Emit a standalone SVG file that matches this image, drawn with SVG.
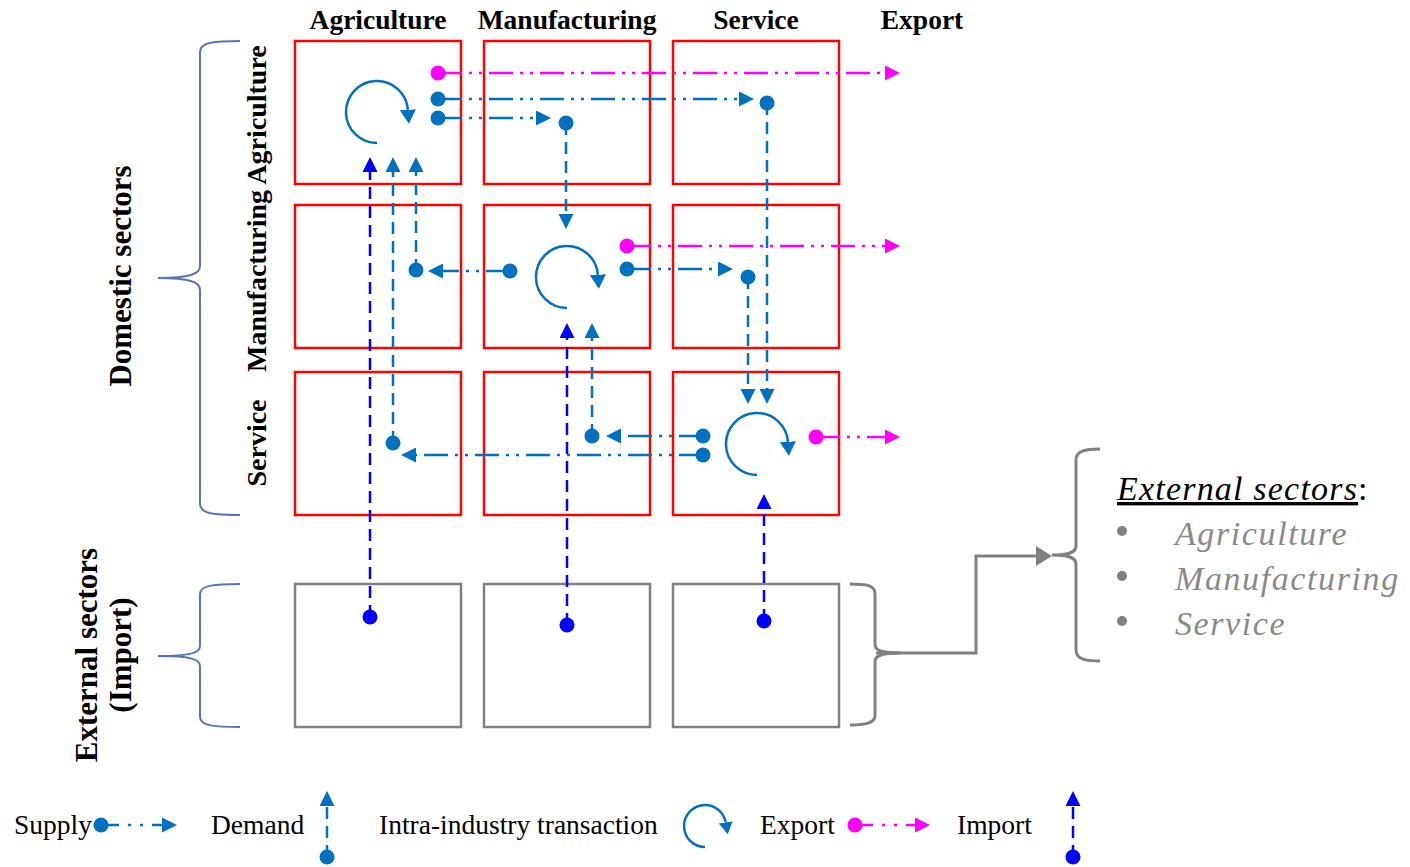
<svg xmlns="http://www.w3.org/2000/svg" width="1410" height="867" viewBox="0 0 1410 867">
<style>
.hdr{font-family:"Liberation Serif","Times New Roman",serif;font-weight:bold;font-size:27.5px;fill:#000}
.rowl{font-family:"Liberation Serif","Times New Roman",serif;font-weight:bold;font-size:28px;fill:#000}
.grp{font-family:"Liberation Serif","Times New Roman",serif;font-weight:bold;font-size:31px;fill:#000}
.leg{font-family:"Liberation Serif","Times New Roman",serif;font-size:27.5px;fill:#000}
.ext{font-family:"Liberation Serif","Times New Roman",serif;font-style:italic;font-size:34px;letter-spacing:1.2px}
.item{font-family:"Liberation Serif","Times New Roman",serif;font-style:italic;font-size:34px;letter-spacing:1.6px;fill:#8A8A8A}
.box{fill:none;stroke:#FF0000;stroke-width:2.5}
.gbox{fill:none;stroke:#808080;stroke-width:2.5}
.sup{fill:none;stroke:#0070C0;stroke-width:2.5;stroke-dasharray:24 7 3 7 3 7}
.exp{fill:none;stroke:#FF00FF;stroke-width:2.5;stroke-dasharray:24 7 3 7 3 7}
.dem{fill:none;stroke:#0070C0;stroke-width:2.5;stroke-dasharray:12 7}
.imp{fill:none;stroke:#0000FF;stroke-width:2.5;stroke-dasharray:12 7}
.circ{fill:none;stroke:#0070C0;stroke-width:2.5}
.dotb{fill:#0070C0}
.dotm{fill:#FF00FF}
.doti{fill:#0000FF}
.brace{fill:none;stroke:#5A74B8;stroke-width:2}
.gbrace{fill:none;stroke:#808080;stroke-width:3}
</style>
<defs>
<marker id="ab" viewBox="0 0 15 15" refX="0" refY="7.5" markerWidth="15" markerHeight="15" markerUnits="userSpaceOnUse" orient="auto"><path d="M0,0 L15,7.5 L0,15 z" fill="#0070C0"/></marker>
<marker id="am" viewBox="0 0 15 15" refX="0" refY="7.5" markerWidth="15" markerHeight="15" markerUnits="userSpaceOnUse" orient="auto"><path d="M0,0 L15,7.5 L0,15 z" fill="#FF00FF"/></marker>
<marker id="ai" viewBox="0 0 15 15" refX="0" refY="7.5" markerWidth="15" markerHeight="15" markerUnits="userSpaceOnUse" orient="auto"><path d="M0,0 L15,7.5 L0,15 z" fill="#0000FF"/></marker>
<marker id="ac" viewBox="0 0 14 16" refX="0" refY="8" markerWidth="14" markerHeight="16" markerUnits="userSpaceOnUse" orient="auto"><path d="M0,0 L14,8 L0,16 z" fill="#0070C0"/></marker>
<marker id="acs" viewBox="0 0 12 14" refX="0" refY="7" markerWidth="12" markerHeight="14" markerUnits="userSpaceOnUse" orient="auto"><path d="M0,0 L12,7 L0,14 z" fill="#0070C0"/></marker>
<marker id="ag" viewBox="0 0 16 20" refX="0" refY="10" markerWidth="16" markerHeight="20" markerUnits="userSpaceOnUse" orient="auto"><path d="M0,0 L16,10 L0,20 z" fill="#808080"/></marker>
</defs>

<g id="headers">
<text class="hdr" x="378" y="29" text-anchor="middle">Agriculture</text>
<text class="hdr" x="567" y="29" text-anchor="middle">Manufacturing</text>
<text class="hdr" x="756" y="29" text-anchor="middle">Service</text>
<text class="hdr" x="922" y="29" text-anchor="middle">Export</text>
</g>
<g id="row-labels">
<text class="rowl" transform="translate(266,115) rotate(-90)" text-anchor="middle">Agriculture</text>
<text class="rowl" transform="translate(266,281) rotate(-90)" text-anchor="middle">Manufacturing</text>
<text class="rowl" transform="translate(266,443) rotate(-90)" text-anchor="middle">Service</text>
</g>
<g id="domestic-label">
<text class="grp" transform="translate(131,276) rotate(-90)" text-anchor="middle">Domestic sectors</text>
<path class="brace" d="M240,41 C215,41 200,42 200,52 L200,266 C200,274 190,278 158,278 C190,278 200,282 200,290 L200,504 C200,514 215,515 240,515"/>
</g>
<g id="external-label">
<text class="grp" transform="translate(97,655) rotate(-90)" text-anchor="middle">External sectors</text>
<text class="grp" transform="translate(131,655) rotate(-90)" text-anchor="middle">(Import)</text>
<path class="brace" d="M240,584 C215,584 200,585 200,594 L200,646 C200,653 190,656 158,656 C190,656 200,659 200,666 L200,717 C200,726 215,727 240,727"/>
</g>

<g id="node-ag-ag"><rect class="box" x="295" y="41" width="166" height="143"/></g>
<g id="node-ag-mf"><rect class="box" x="484" y="41" width="166" height="143"/></g>
<g id="node-ag-sv"><rect class="box" x="673" y="41" width="166" height="143"/></g>
<g id="node-mf-ag"><rect class="box" x="295" y="205" width="166" height="143"/></g>
<g id="node-mf-mf"><rect class="box" x="484" y="205" width="166" height="143"/></g>
<g id="node-mf-sv"><rect class="box" x="673" y="205" width="166" height="143"/></g>
<g id="node-sv-ag"><rect class="box" x="295" y="372" width="166" height="143"/></g>
<g id="node-sv-mf"><rect class="box" x="484" y="372" width="166" height="143"/></g>
<g id="node-sv-sv"><rect class="box" x="673" y="372" width="166" height="143"/></g>
<g id="node-ext-ag"><rect class="gbox" x="295" y="584" width="166" height="143"/></g>
<g id="node-ext-mf"><rect class="gbox" x="484" y="584" width="166" height="143"/></g>
<g id="node-ext-sv"><rect class="gbox" x="673" y="584" width="166" height="143"/></g>

<g id="external-list">
<path class="gbrace" d="M850,584 C866,584 875,585 875,594 L875,644 C875,650 880,653 900,653 C880,653 875,656 875,662 L875,716 C875,723 866,725 850,725"/>
<path class="gbrace" d="M1100,449 C1085,449 1076,451 1076,460 L1076,546 C1076,552 1070,555 1052,555 C1070,555 1076,558 1076,564 L1076,650 C1076,659 1085,661 1100,661"/>
<text class="ext" x="1117" y="500" fill="#000"><tspan text-decoration="underline">External sectors</tspan><tspan font-style="normal">:</tspan></text>
<circle cx="1122" cy="531" r="5" fill="#808080"/>
<circle cx="1122" cy="576" r="5" fill="#808080"/>
<circle cx="1122" cy="621" r="5" fill="#808080"/>
<text class="item" x="1175" y="545">Agriculture</text>
<text class="item" x="1175" y="590">Manufacturing</text>
<text class="item" x="1175" y="635">Service</text>
</g>

<g id="connectors">
<path fill="none" stroke="#808080" stroke-width="3" d="M876,653 H976 V556 H1036" marker-end="url(#ag)"/>
<path class="circ" d="M377,143 A31,31 0 1 1 407.9,109.8" marker-end="url(#ac)"/>
<path class="circ" d="M567,308 A31,31 0 1 1 597.9,274.8" marker-end="url(#ac)"/>
<path class="circ" d="M757,475 A31,31 0 1 1 787.9,441.8" marker-end="url(#ac)"/>
<path class="exp" d="M438,73 H885" marker-end="url(#am)"/>
<path class="exp" d="M627,246 H885" marker-end="url(#am)"/>
<path class="exp" d="M816,437 H885" marker-end="url(#am)"/>
<path class="sup" d="M438,99 H739" marker-end="url(#ab)"/>
<path class="sup" d="M438,118 H536" marker-end="url(#ab)"/>
<path class="sup" d="M510,271 H443" marker-end="url(#ab)"/>
<path class="sup" d="M627,269 H718" marker-end="url(#ab)"/>
<path class="sup" d="M703,436 H621" marker-end="url(#ab)"/>
<path class="sup" d="M703,455 H416" marker-end="url(#ab)"/>
<path class="dem" d="M566,123 V214" marker-end="url(#ab)"/>
<path class="dem" d="M767,103 V389" marker-end="url(#ab)"/>
<path class="dem" d="M748,277 V389" marker-end="url(#ab)"/>
<path class="dem" d="M416,271 V172" marker-end="url(#ab)"/>
<path class="dem" d="M592,436 V338" marker-end="url(#ab)"/>
<path class="dem" d="M393,443 V172" marker-end="url(#ab)"/>
<path class="imp" d="M370,617 V172" marker-end="url(#ai)"/>
<path class="imp" d="M567,625 V338" marker-end="url(#ai)"/>
<path class="imp" d="M764,621 V509" marker-end="url(#ai)"/>
<circle class="dotm" cx="438" cy="73" r="7.5"/>
<circle class="dotm" cx="627" cy="246" r="7.5"/>
<circle class="dotm" cx="816" cy="437" r="7.5"/>
<circle class="dotb" cx="438" cy="99" r="7.5"/>
<circle class="dotb" cx="438" cy="118" r="7.5"/>
<circle class="dotb" cx="767" cy="103" r="7.5"/>
<circle class="dotb" cx="566" cy="123" r="7.5"/>
<circle class="dotb" cx="510" cy="271" r="7.5"/>
<circle class="dotb" cx="416" cy="270" r="7.5"/>
<circle class="dotb" cx="627" cy="269" r="7.5"/>
<circle class="dotb" cx="748" cy="277" r="7.5"/>
<circle class="dotb" cx="703" cy="436" r="7.5"/>
<circle class="dotb" cx="703" cy="455" r="7.5"/>
<circle class="dotb" cx="592" cy="436" r="7.5"/>
<circle class="dotb" cx="393" cy="443" r="7.5"/>
<circle class="doti" cx="370" cy="617" r="7.5"/>
<circle class="doti" cx="567" cy="625" r="7.5"/>
<circle class="doti" cx="764" cy="621" r="7.5"/>
</g>

<g id="legend">
<text class="leg" x="14" y="834">Supply</text>
<path fill="none" stroke="#0070C0" stroke-width="2.5" stroke-dasharray="18 9 3 9 3 9 30" d="M101,825 H162" marker-end="url(#ab)"/>
<circle class="dotb" cx="101" cy="825" r="7.5"/>
<text class="leg" x="211" y="834">Demand</text>
<path class="dem" d="M327,857 V806" marker-end="url(#ab)"/>
<circle class="dotb" cx="327" cy="857" r="7.5"/>
<text class="leg" x="379" y="834">Intra-industry transaction</text>
<path class="circ" d="M705,847 A21,21 0 1 1 725.7,822.4" marker-end="url(#acs)"/>
<text class="leg" x="760" y="834">Export</text>
<path fill="none" stroke="#FF00FF" stroke-width="2.5" stroke-dasharray="18 9 3 9 3 9 30" d="M855,825 H915" marker-end="url(#am)"/>
<circle class="dotm" cx="855" cy="825" r="7.5"/>
<text class="leg" x="957" y="834">Import</text>
<path class="imp" d="M1073,857 V806" marker-end="url(#ai)"/>
<circle class="doti" cx="1073" cy="857" r="7.5"/>
</g>
</svg>
